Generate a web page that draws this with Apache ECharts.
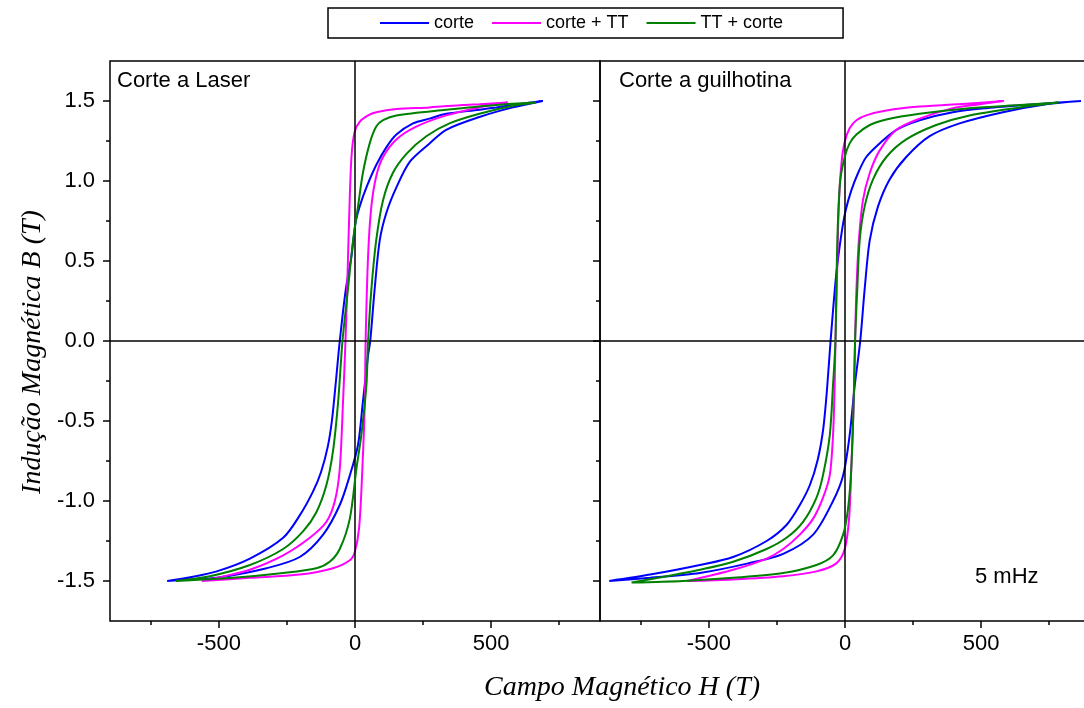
<!DOCTYPE html>
<html>
<head>
<meta charset="utf-8">
<script src="https://cdn.jsdelivr.net/npm/echarts@6/dist/echarts.min.js"></script>
<style>html,body{margin:0;padding:0;background:#fff}#c{width:1084px;height:708px}</style>
</head>
<body>
<div id="c"></div>
<script>
// ---- data: each loop = [H, B] points (upper branch then lower branch) ----
const seriesNames = ['corte', 'corte + TT', 'TT + corte'];
const xMajorTicks = [-500, 0, 500];
const xMinorTicks = [-750, -250, 250, 750];
const yMajorTicks = [-1.5, -1.0, -0.5, 0, 0.5, 1.0, 1.5];
const yMinorTicks = [-1.25, -0.75, -0.25, 0.25, 0.75, 1.25];
const panelTitles = ['Corte a Laser', 'Corte a guilhotina'];

const laserCorte = [
  [690,1.50],[600,1.48],[519,1.46],[457,1.445],[335,1.42],[274,1.39],[213,1.36],[152,1.29],[115,1.21],[78,1.10],[42,0.96],[17,0.84],[2,0.74],[-13,0.53],[-34,0.32],[-56,0],[-70,-0.25],[-85,-0.5],[-100,-0.66],[-125,-0.82],[-154,-0.94],[-203,-1.09],[-264,-1.23],[-386,-1.36],[-508,-1.44],[-600,-1.475],[-690,-1.50],
  [-600,-1.49],[-508,-1.48],[-325,-1.42],[-203,-1.35],[-117,-1.21],[-56,-1.025],[-19,-0.84],[11,-0.65],[29,-0.38],[48,-0.09],[56,0],[72,0.32],[91,0.63],[115,0.80],[152,0.96],[201,1.12],[274,1.235],[335,1.32],[457,1.40],[580,1.46],[690,1.50]
];
const laserCorteTT = [
  [561,1.49],[457,1.48],[396,1.475],[274,1.46],[152,1.45],[78,1.43],[48,1.41],[17,1.37],[-1,1.31],[-13,1.15],[-22,0.74],[-29,0.32],[-35,0],[-44,-0.38],[-56,-0.80],[-74,-1.0],[-105,-1.13],[-166,-1.23],[-264,-1.34],[-386,-1.43],[-480,-1.47],[-563,-1.50],
  [-386,-1.48],[-203,-1.46],[-81,-1.42],[-19,-1.37],[-1,-1.32],[15,-1.17],[27,-0.80],[36,-0.38],[39,0],[48,0.53],[60,0.84],[78,1.03],[103,1.15],[152,1.26],[225,1.34],[335,1.41],[457,1.46],[561,1.49]
];
const laserTTCorte = [
  [665,1.49],[519,1.475],[335,1.445],[152,1.41],[103,1.38],[78,1.34],[54,1.235],[29,1.05],[11,0.84],[-7,0.63],[-26,0.32],[-46,0],[-62,-0.38],[-81,-0.69],[-105,-0.90],[-142,-1.07],[-191,-1.19],[-264,-1.30],[-386,-1.40],[-533,-1.47],[-658,-1.50],
  [-448,-1.48],[-264,-1.45],[-142,-1.42],[-93,-1.38],[-56,-1.30],[-19,-1.11],[5,-0.80],[23,-0.59],[42,-0.275],[48,0],[60,0.32],[78,0.63],[103,0.88],[139,1.05],[189,1.17],[262,1.28],[347,1.36],[457,1.42],[580,1.47],[665,1.49]
];
const guilCorte = [
  [867,1.50],[702,1.48],[519,1.455],[396,1.43],[274,1.38],[189,1.32],[127,1.235],[78,1.15],[48,1.05],[23,0.94],[3,0.82],[-13,0.67],[-32,0.42],[-53,0],[-66,-0.3],[-80,-0.55],[-100,-0.74],[-129,-0.90],[-166,-1.025],[-215,-1.15],[-288,-1.25],[-411,-1.35],[-533,-1.40],[-716,-1.46],[-866,-1.50],
  [-716,-1.48],[-533,-1.45],[-356,-1.39],[-227,-1.33],[-117,-1.21],[-44,-1.0],[-7,-0.84],[17,-0.59],[36,-0.275],[56,0],[72,0.32],[91,0.63],[121,0.84],[164,1.01],[225,1.15],[311,1.28],[421,1.36],[580,1.43],[739,1.48],[867,1.50]
];
const guilCorteTT = [
  [583,1.50],[457,1.485],[274,1.465],[152,1.44],[78,1.41],[42,1.38],[17,1.33],[-1,1.245],[-13,1.11],[-23,0.84],[-29,0.42],[-35,0],[-38,-0.275],[-44,-0.59],[-56,-0.84],[-81,-0.98],[-117,-1.11],[-166,-1.21],[-227,-1.30],[-288,-1.36],[-411,-1.43],[-580,-1.50],
  [-411,-1.49],[-227,-1.47],[-105,-1.44],[-32,-1.39],[-1,-1.30],[15,-1.11],[23,-0.80],[32,-0.38],[37,0],[42,0.32],[51,0.63],[66,0.88],[91,1.05],[127,1.19],[189,1.32],[274,1.39],[396,1.455],[494,1.48],[583,1.50]
];
const guilTTCorte = [
  [785,1.49],[642,1.475],[457,1.455],[274,1.42],[152,1.385],[91,1.35],[42,1.29],[17,1.235],[-1,1.15],[-17,1.01],[-26,0.74],[-32,0.32],[-35,0],[-44,-0.275],[-56,-0.59],[-81,-0.84],[-105,-0.98],[-154,-1.13],[-215,-1.23],[-288,-1.30],[-411,-1.38],[-533,-1.43],[-655,-1.47],[-784,-1.51],
  [-594,-1.50],[-411,-1.48],[-227,-1.45],[-105,-1.40],[-44,-1.34],[-7,-1.21],[11,-1.05],[23,-0.80],[32,-0.38],[37,0],[45,0.32],[54,0.63],[72,0.84],[103,1.01],[152,1.15],[225,1.26],[335,1.35],[457,1.41],[642,1.46],[785,1.49]
];

// ---- chart ----
const colors = ['#0000ff', '#ff00ff', '#008000'];
const SANS = 'Liberation Sans, Arial, sans-serif';
const SERIF = 'Liberation Serif, Times New Roman, serif';
const chart = echarts.init(document.getElementById('c'), null, {renderer: 'canvas'});

function xAxes(grid, minor) {
  return {
    type: 'value', gridIndex: grid, min: -900, max: 900, position: 'bottom',
    axisLine: {show: false, onZero: false}, splitLine: {show: false},
    axisTick: {show: true, customValues: minor ? xMinorTicks : xMajorTicks, length: minor ? 4 : 7, lineStyle: {color: '#000', width: 1.5}},
    axisLabel: minor ? {show: false} : {show: true, customValues: xMajorTicks, fontSize: 22, color: '#000', fontFamily: SANS, margin: 12}
  };
}
function yAxes(grid, minor, labels) {
  return {
    type: 'value', gridIndex: grid, min: -1.75, max: 1.75, position: 'left',
    axisLine: {show: false, onZero: false}, splitLine: {show: false},
    axisTick: {show: true, customValues: minor ? yMinorTicks : yMajorTicks, length: minor ? 4 : 7, lineStyle: {color: '#000', width: 1.5}},
    axisLabel: (minor || !labels) ? {show: false} : {show: true, customValues: yMajorTicks, fontSize: 22, color: '#000', fontFamily: SANS, margin: 15, formatter: v => v.toFixed(1)}
  };
}
function loop(name, data, ci, gi) {
  return {
    name: name, type: 'line', data: data, xAxisIndex: gi * 2, yAxisIndex: gi * 2,
    symbol: 'none', smooth: 0.3, lineStyle: {color: colors[ci], width: 2}, itemStyle: {color: colors[ci]},
    z: 3 + ci, silent: true
  };
}
function zeroLines(gi) {
  return {
    type: 'line', data: [], xAxisIndex: gi * 2, yAxisIndex: gi * 2, silent: true, z: 10,
    markLine: {silent: true, symbol: 'none', label: {show: false},
      lineStyle: {color: '#000', width: 1.5, type: 'solid'},
      data: [{xAxis: 0}, {yAxis: 0}]}
  };
}

chart.setOption({
  animation: false,
  backgroundColor: '#fff',
  legend: {
    data: seriesNames, top: 8, left: 328,
    borderColor: '#000', borderWidth: 1.5, padding: [6, 60, 6, 52],
    itemGap: 18, itemWidth: 49, itemHeight: 2, icon: 'rect',
    textStyle: {fontSize: 18, fontFamily: SANS, color: '#000'}
  },
  grid: [
    {left: 110, top: 61, width: 490, height: 560, outerBoundsMode: 'none', show: true, borderColor: '#000', borderWidth: 1.5},
    {left: 600, top: 61, width: 490, height: 560, outerBoundsMode: 'none', containLabel: false, show: true, borderColor: '#000', borderWidth: 1.5}
  ],
  xAxis: [xAxes(0, false), xAxes(0, true), xAxes(1, false), xAxes(1, true)],
  yAxis: [yAxes(0, false, true), yAxes(0, true, false), yAxes(1, false, false), yAxes(1, true, false)],
  series: [
    zeroLines(0), zeroLines(1),
    loop(seriesNames[0], laserCorte, 0, 0),
    loop(seriesNames[1], laserCorteTT, 1, 0),
    loop(seriesNames[2], laserTTCorte, 2, 0),
    loop(seriesNames[0], guilCorte, 0, 1),
    loop(seriesNames[1], guilCorteTT, 1, 1),
    loop(seriesNames[2], guilTTCorte, 2, 1)
  ],
  graphic: [
    {type: 'text', left: 117, top: 70, style: {text: panelTitles[0], font: '22px ' + SANS, fill: '#000'}},
    {type: 'text', left: 619, top: 70, style: {text: panelTitles[1], font: '22px ' + SANS, fill: '#000'}},
    {type: 'text', left: 975, top: 566, style: {text: '5 mHz', font: '22px ' + SANS, fill: '#000'}},
    {type: 'text', x: 622, y: 688, style: {text: 'Campo Magnético H (T)', font: 'italic 28px ' + SERIF, fill: '#000', align: 'center', verticalAlign: 'middle'}},
    {type: 'text', x: 33, y: 352, rotation: Math.PI / 2, style: {text: 'Indução Magnética B (T)', font: 'italic 28px ' + SERIF, fill: '#000', align: 'center', verticalAlign: 'middle'}}
  ]
});
</script>
</body>
</html>
